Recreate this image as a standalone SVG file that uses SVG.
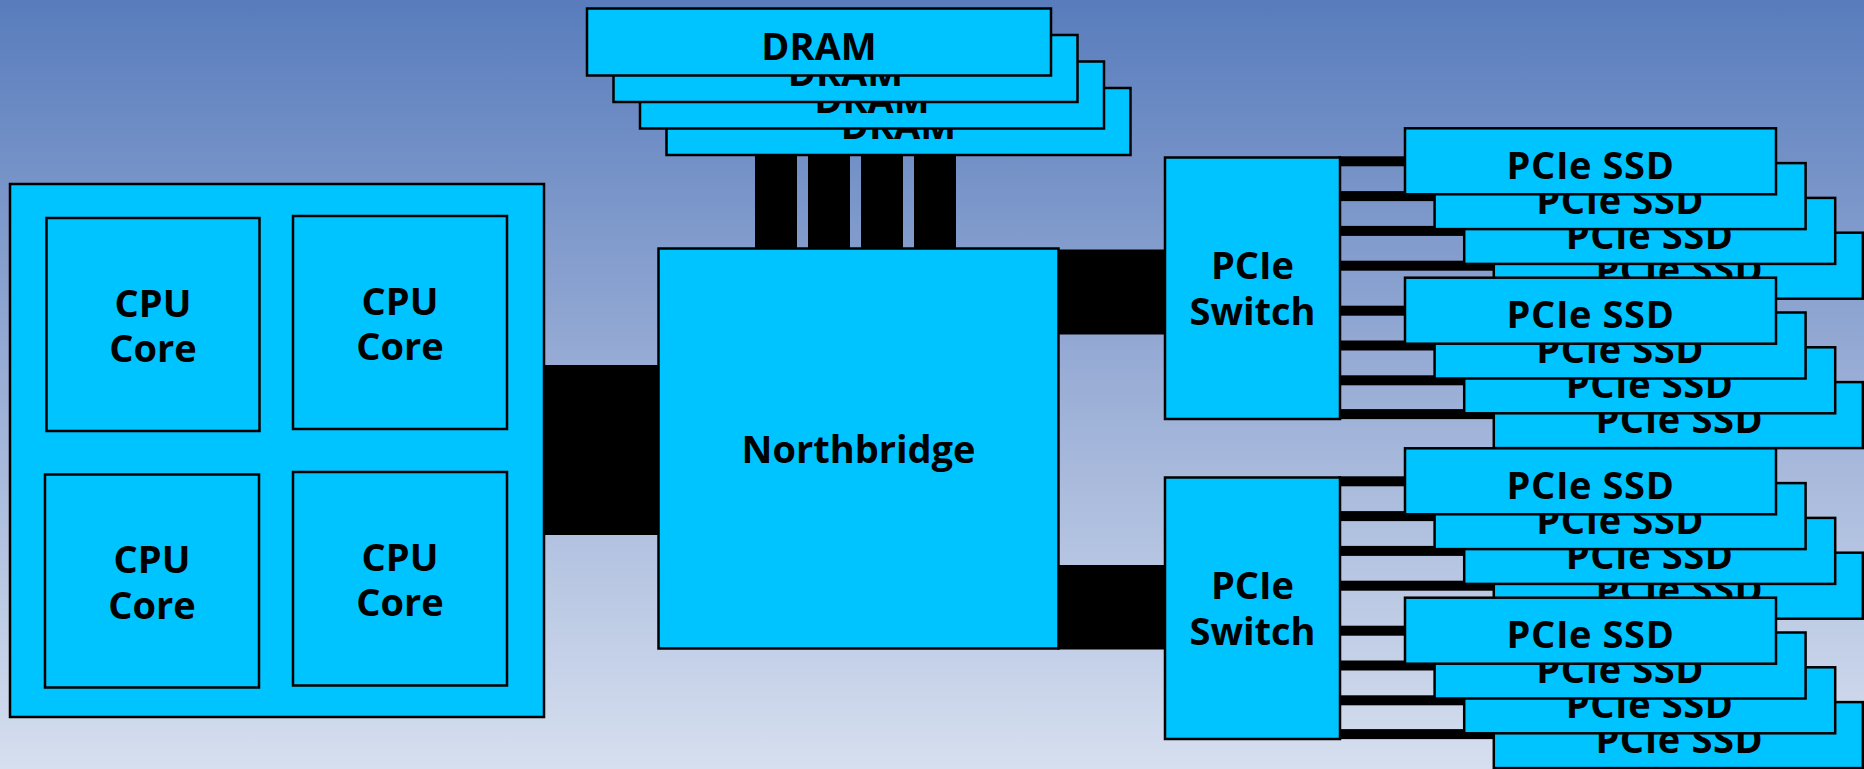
<svg xmlns="http://www.w3.org/2000/svg" width="1864" height="769" viewBox="0 0 1864 769">
<defs>
<linearGradient id="bg" x1="0" y1="0" x2="0" y2="1">
<stop offset="0" stop-color="#587cbc"/>
<stop offset="0.5" stop-color="#9aaed6"/>
<stop offset="1" stop-color="#d6dfef"/>
</linearGradient>
</defs>
<style>
.box{fill:#00c4ff;stroke:#000;stroke-width:2.5}
.t{font-family:"Open Sans","Noto Sans","Liberation Sans",sans-serif;font-weight:bold;font-size:38px;fill:#000;text-anchor:middle}
.s{letter-spacing:0.6px}
.bus{fill:#000}
</style>
<rect x="0" y="0" width="1864" height="769" fill="url(#bg)"/>
<g id="connectors">
<rect class="bus" x="544" y="365" width="115" height="170"/>
<rect class="bus" x="755" y="150" width="42" height="100"/>
<rect class="bus" x="808" y="150" width="42" height="100"/>
<rect class="bus" x="861" y="150" width="42" height="100"/>
<rect class="bus" x="914" y="150" width="42" height="100"/>
<rect class="bus" x="1057" y="249.5" width="110" height="85"/>
<rect class="bus" x="1057" y="565" width="110" height="84.5"/>
<rect class="bus" x="1338" y="156.3" width="72" height="10"/>
<rect class="bus" x="1338" y="191.1" width="102" height="10"/>
<rect class="bus" x="1338" y="225.9" width="132" height="10"/>
<rect class="bus" x="1338" y="260.7" width="162" height="10"/>
<rect class="bus" x="1338" y="305.7" width="72" height="10"/>
<rect class="bus" x="1338" y="340.5" width="102" height="10"/>
<rect class="bus" x="1338" y="375.3" width="132" height="10"/>
<rect class="bus" x="1338" y="409.1" width="162" height="10"/>
<rect class="bus" x="1338" y="476.3" width="72" height="10"/>
<rect class="bus" x="1338" y="511.1" width="102" height="10"/>
<rect class="bus" x="1338" y="545.9" width="132" height="10"/>
<rect class="bus" x="1338" y="580.7" width="162" height="10"/>
<rect class="bus" x="1338" y="625.7" width="72" height="10"/>
<rect class="bus" x="1338" y="660.5" width="102" height="10"/>
<rect class="bus" x="1338" y="695.3" width="132" height="10"/>
<rect class="bus" x="1338" y="729.1" width="162" height="10"/>
</g>
<g id="cpu">
<rect class="box" x="10" y="184" width="534" height="533"/>
</g>
<g id="core1"><rect class="box" x="46.5" y="218" width="213" height="213"/><text class="t" x="153" y="316.5">CPU</text><text class="t" x="153" y="362">Core</text></g>
<g id="core2"><rect class="box" x="293" y="216" width="214" height="213"/><text class="t" x="400" y="314.5">CPU</text><text class="t" x="400" y="360">Core</text></g>
<g id="core3"><rect class="box" x="45" y="474.5" width="214" height="213"/><text class="t" x="152" y="573">CPU</text><text class="t" x="152" y="618.5">Core</text></g>
<g id="core4"><rect class="box" x="293" y="472" width="214" height="213.5"/><text class="t" x="400" y="570.5">CPU</text><text class="t" x="400" y="616">Core</text></g>
<g id="dram4"><rect class="box" x="666.5" y="88" width="464" height="67"/><text class="t" x="898.5" y="139">DRAM</text></g>
<g id="dram3"><rect class="box" x="640" y="61.5" width="464" height="67"/><text class="t" x="872" y="112.5">DRAM</text></g>
<g id="dram2"><rect class="box" x="613.5" y="35" width="464" height="67"/><text class="t" x="845.5" y="86">DRAM</text></g>
<g id="dram1"><rect class="box" x="587" y="8.5" width="464" height="67"/><text class="t" x="819" y="59.5">DRAM</text></g>
<g id="northbridge"><rect class="box" x="658.5" y="248.5" width="400" height="400"/><text class="t" x="858.5" y="463">Northbridge</text></g>
<g id="switch1"><rect class="box" x="1165" y="157.5" width="175" height="261.5"/><text class="t" x="1252.5" y="279">PCIe</text><text class="t" x="1252.5" y="325">Switch</text></g>
<g id="switch2"><rect class="box" x="1165" y="477.5" width="175" height="261.5"/><text class="t" x="1252.5" y="599">PCIe</text><text class="t" x="1252.5" y="645">Switch</text></g>
<g id="ssdA4"><rect class="box" x="1493.8" y="232.7" width="369" height="66"/><text class="t s" x="1679.3" y="283.4">PCIe SSD</text></g>
<g id="ssdA3"><rect class="box" x="1464.2" y="197.9" width="371" height="66"/><text class="t s" x="1649.7" y="248.6">PCIe SSD</text></g>
<g id="ssdA2"><rect class="box" x="1434.6" y="163.1" width="371" height="66"/><text class="t s" x="1620.1" y="213.8">PCIe SSD</text></g>
<g id="ssdA1"><rect class="box" x="1405" y="128.3" width="371" height="66"/><text class="t s" x="1590.5" y="179">PCIe SSD</text></g>
<g id="ssdB4"><rect class="box" x="1493.8" y="382.1" width="369" height="66"/><text class="t s" x="1679.3" y="432.8">PCIe SSD</text></g>
<g id="ssdB3"><rect class="box" x="1464.2" y="347.3" width="371" height="66"/><text class="t s" x="1649.7" y="398">PCIe SSD</text></g>
<g id="ssdB2"><rect class="box" x="1434.6" y="312.5" width="371" height="66"/><text class="t s" x="1620.1" y="363.2">PCIe SSD</text></g>
<g id="ssdB1"><rect class="box" x="1405" y="277.7" width="371" height="66"/><text class="t s" x="1590.5" y="328.4">PCIe SSD</text></g>
<g id="ssdC4"><rect class="box" x="1493.8" y="552.7" width="369" height="66"/><text class="t s" x="1679.3" y="603.4">PCIe SSD</text></g>
<g id="ssdC3"><rect class="box" x="1464.2" y="517.9" width="371" height="66"/><text class="t s" x="1649.7" y="568.6">PCIe SSD</text></g>
<g id="ssdC2"><rect class="box" x="1434.6" y="483.1" width="371" height="66"/><text class="t s" x="1620.1" y="533.8">PCIe SSD</text></g>
<g id="ssdC1"><rect class="box" x="1405" y="448.3" width="371" height="66"/><text class="t s" x="1590.5" y="499">PCIe SSD</text></g>
<g id="ssdD4"><rect class="box" x="1493.8" y="702.1" width="369" height="66"/><text class="t s" x="1679.3" y="752.8">PCIe SSD</text></g>
<g id="ssdD3"><rect class="box" x="1464.2" y="667.3" width="371" height="66"/><text class="t s" x="1649.7" y="718">PCIe SSD</text></g>
<g id="ssdD2"><rect class="box" x="1434.6" y="632.5" width="371" height="66"/><text class="t s" x="1620.1" y="683.2">PCIe SSD</text></g>
<g id="ssdD1"><rect class="box" x="1405" y="597.7" width="371" height="66"/><text class="t s" x="1590.5" y="648.4">PCIe SSD</text></g>
</svg>
